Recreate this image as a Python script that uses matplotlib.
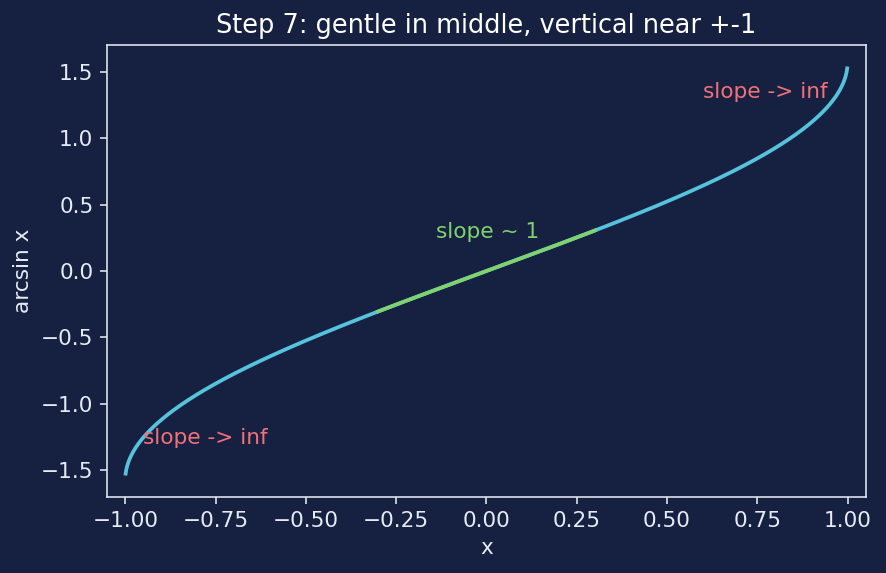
import numpy as np
import matplotlib
matplotlib.use("Agg")
import matplotlib.pyplot as plt

x_full = np.linspace(-0.999, 0.999, 1000)
y_full = np.arcsin(x_full)
x_mid = np.linspace(-0.3, 0.3, 200)
y_mid = np.arcsin(x_mid)

title = "Step 7: gentle in middle, vertical near +-1"
annotations = [(0.6, 1.3, "slope -> inf", "#f07178"),
               (-0.95, -1.3, "slope -> inf", "#f07178"),
               (-0.14, 0.25, "slope ~ 1", "#7fd36f")]

S = 1.42
bg = "#162040"
fg = "#e6ebf3"
fig, ax = plt.subplots(figsize=(8.86, 5.73), dpi=100)
fig.patch.set_facecolor(bg)
ax.set_facecolor(bg)
ax.plot(x_full, y_full, color="#56c2dc", lw=1.9 * S)
ax.plot(x_mid, y_mid, color="#7fd36f", lw=1.9 * S)
for xa, ya, t, c in annotations:
    ax.text(xa, ya, t, color=c, fontsize=11 * S)
ax.set_xlim(-1.05, 1.05)
ax.set_ylim(-1.7, 1.7)
ax.set_title(title, color="white", fontsize=13 * S, pad=6 * S)
ax.set_xlabel("x", color=fg, fontsize=11 * S, labelpad=4 * S)
ax.set_ylabel("arcsin x", color=fg, fontsize=11 * S, labelpad=4 * S)
ax.tick_params(colors=fg, labelsize=11 * S, length=3.5 * S, width=0.8 * S, pad=3.5 * S)
for s in ax.spines.values():
    s.set_color(fg)
    s.set_linewidth(0.8 * S)
fig.subplots_adjust(left=0.121, right=0.977, top=0.921, bottom=0.133)
fig.savefig("out.png", dpi=100, facecolor=bg)
